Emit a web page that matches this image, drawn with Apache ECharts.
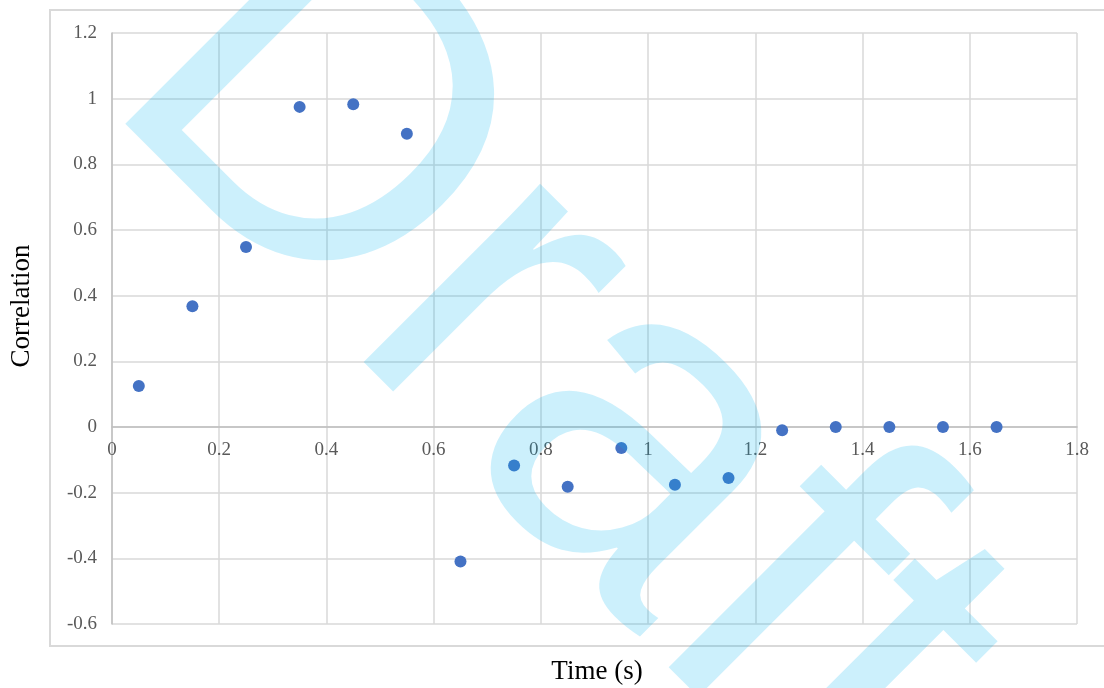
<!DOCTYPE html>
<html>
<head>
<meta charset="utf-8">
<script src="https://cdn.jsdelivr.net/npm/echarts@6/dist/echarts.min.js"></script>
<style>
html,body{margin:0;padding:0;background:#fff;}
#c{width:1104px;height:688px;}
</style>
</head>
<body>
<div id="c"></div>
<script>
const times = [0.05, 0.15, 0.25, 0.35, 0.45, 0.55, 0.65, 0.75, 0.85, 0.95, 1.05, 1.15, 1.25, 1.35, 1.45, 1.55, 1.65];
const correlation = [0.125, 0.368, 0.548, 0.975, 0.983, 0.893, -0.41, -0.117, -0.182, -0.064, -0.176, -0.155, -0.01, 0, 0, 0, 0];
const xTitle = 'Time (s)';
const yTitle = 'Correlation';
const watermark = 'Draft';

const chart = echarts.init(document.getElementById('c'));
const pts = times.map((t, i) => [t, correlation[i]]);
const F = 475;
chart.setOption({
  animation: false,
  backgroundColor: '#fff',
  grid: { left: 112, right: 27, top: 33, bottom: 64, containLabel: false },
  xAxis: {
    type: 'value', min: 0, max: 1.8, interval: 0.2,
    axisLine: { onZero: true, lineStyle: { color: '#bfbfbf', width: 1.5 } },
    axisTick: { show: false },
    axisLabel: { color: '#595959', fontFamily: 'Liberation Serif', fontSize: 19, margin: -183 },
    splitLine: { show: true, lineStyle: { color: '#d9d9d9', width: 1.5 } }
  },
  yAxis: {
    type: 'value', min: -0.6, max: 1.2, interval: 0.2,
    axisLine: { show: true, lineStyle: { color: '#bfbfbf', width: 1.5 } },
    axisTick: { show: false },
    axisLabel: { color: '#595959', fontFamily: 'Liberation Serif', fontSize: 19, margin: 15 },
    splitLine: { show: true, lineStyle: { color: '#d9d9d9', width: 1.5 } }
  },
  series: [{
    type: 'scatter',
    data: pts,
    symbolSize: 12,
    itemStyle: { color: '#4472C4', opacity: 1 },
    z: 5
  }],
  graphic: [
    { type: 'rect', z: -10, silent: true,
      shape: { x: 50, y: 10, width: 1070, height: 636 },
      style: { fill: null, stroke: '#d9d9d9', lineWidth: 2 } },
    { type: 'text', x: 597, y: 672, z: 10, silent: true,
      style: { text: xTitle, fontFamily: 'Liberation Serif', fontSize: 27, fill: '#000', align: 'center', verticalAlign: 'middle' } },
    { type: 'text', x: 22, y: 306, rotation: Math.PI / 2, z: 10, silent: true,
      style: { text: yTitle, fontFamily: 'Liberation Serif', fontSize: 27, fill: '#000', align: 'center', verticalAlign: 'middle' } },
    { type: 'text', x: 74, y: 120, rotation: -Math.PI / 4, z: 100, silent: true,
      style: { text: watermark, x: 0, y: -0.3465 * F, fontFamily: 'Liberation Sans', fontSize: F, fill: 'rgba(0,178,240,0.2)', align: 'left', verticalAlign: 'middle' } }
  ]
});
</script>
</body>
</html>
